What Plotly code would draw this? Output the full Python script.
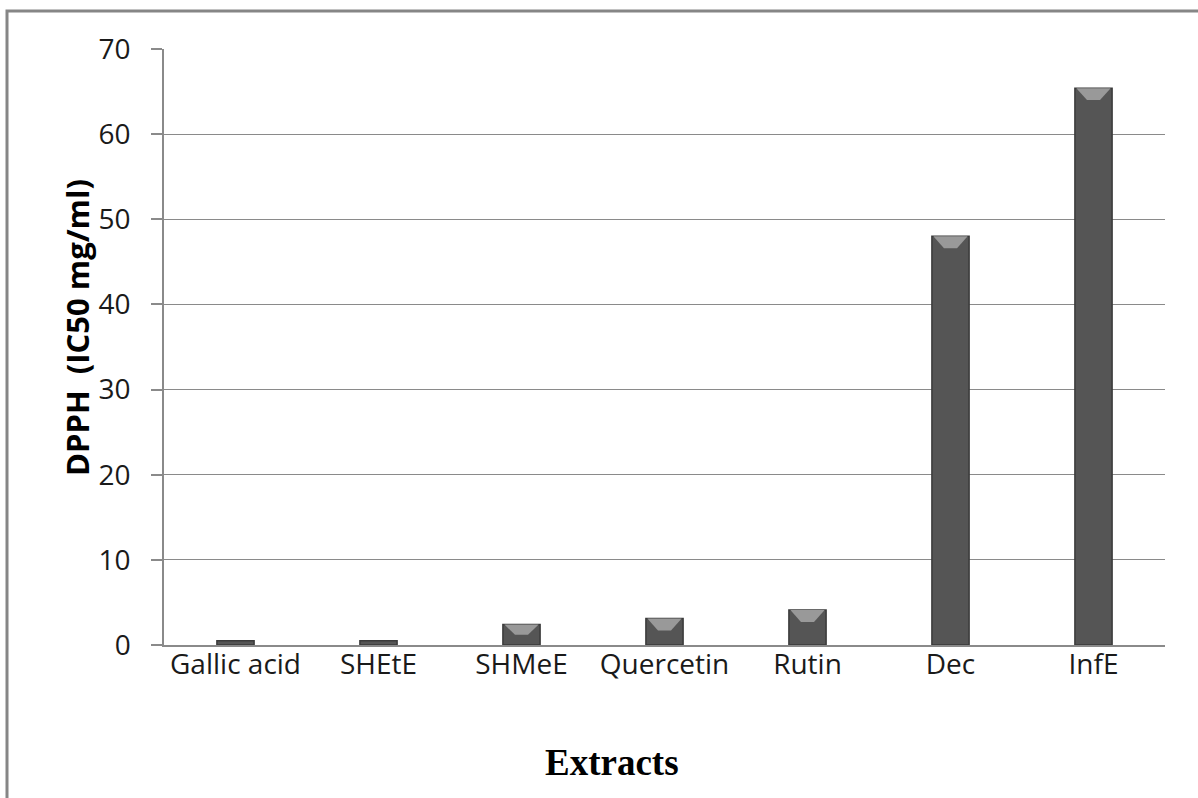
import plotly.graph_objects as go

# DPPH radical scavenging, IC50 per extract / reference compound
categories = ["Gallic acid", "SHEtE", "SHMeE", "Quercetin", "Rutin", "Dec", "InfE"]
ic50_values = [0.5, 0.5, 2.4, 3.1, 4.1, 48.0, 65.4]
y_ticks = [0, 10, 20, 30, 40, 50, 60, 70]

W, H = 1198, 798
ML, MR, MT, MB = 164, 33, 49, 153
plot_w = W - ML - MR
plot_h = H - MT - MB

bar_width = 0.26

fig = go.Figure()
fig.add_trace(go.Bar(
    x=categories,
    y=ic50_values,
    width=bar_width,
    marker=dict(color="#555555", line=dict(color="#3a3a3a", width=1.5)),
    hoverinfo="x+y",
))

shapes = []
# lighter bevel on top of each column, scaled from the bar value
for i, v in enumerate(ic50_values):
    if v < 1:
        continue
    cap = min(1.4, v * 0.5)
    hw = bar_width / 2
    shapes.append(dict(
        type="path", xref="x", yref="y",
        path=(f"M {i - hw + 0.01},{v} L {i + hw - 0.01},{v} "
              f"L {i + hw * 0.35},{v - cap} L {i - hw * 0.35},{v - cap} Z"),
        fillcolor="#999999", line=dict(width=0), layer="above",
    ))

# pixel -> paper coordinate helpers
px = lambda p: (p - ML) / plot_w
py = lambda p: (H - MB - p) / plot_h

# outer chart frame
shapes.append(dict(
    type="rect", xref="paper", yref="paper",
    x0=px(7), x1=px(1230), y0=py(830), y1=py(11),
    line=dict(color="#868686", width=3), fillcolor="rgba(0,0,0,0)",
))

annotations = [
    dict(text="<b>Extracts</b>", xref="paper", yref="paper",
         x=px(612), y=py(762), showarrow=False,
         xanchor="center", yanchor="middle",
         font=dict(size=37, family="Liberation Serif", color="#000")),
    dict(text="<b>DPPH  (IC50 mg/ml)</b>", xref="paper", yref="paper",
         x=px(77), y=py(328), showarrow=False, textangle=-90,
         xanchor="center", yanchor="middle",
         font=dict(size=31, family="Open Sans", color="#000")),
]

fig.update_layout(
    width=W, height=H,
    margin=dict(l=ML, r=MR, t=MT, b=MB),
    paper_bgcolor="white", plot_bgcolor="white",
    showlegend=False,
    shapes=shapes,
    annotations=annotations,
    font=dict(family="Open Sans", color="#1a1a1a"),
    xaxis=dict(
        showline=True, linecolor="#8a8a8a", linewidth=1.5,
        ticks="", ticklabelstandoff=-6,
        tickfont=dict(size=28, family="Open Sans", color="#1a1a1a"),
    ),
    yaxis=dict(
        range=[0, 70], tickvals=y_ticks,
        showline=True, linecolor="#8a8a8a", linewidth=1.5,
        showgrid=True, gridcolor="#8a8a8a", gridwidth=1,
        zeroline=False,
        ticks="outside", ticklen=11, tickcolor="#8a8a8a", tickwidth=1.5,
        ticklabelstandoff=15,
        tickfont=dict(size=28, family="Open Sans", color="#1a1a1a"),
    ),
)

fig.write_html("out.html")
